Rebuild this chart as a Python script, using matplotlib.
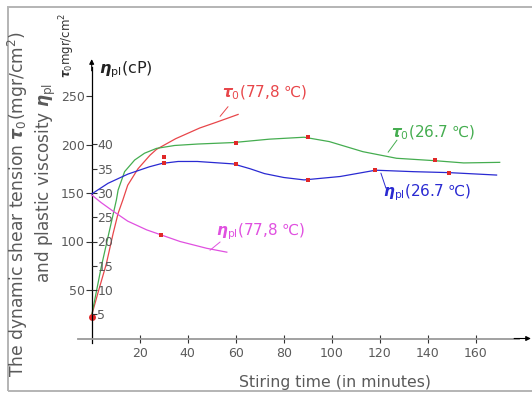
import matplotlib
matplotlib.use("Agg")
import matplotlib.pyplot as plt
from matplotlib.patches import Rectangle

plt.rcParams['font.family'] = ['DejaVu Sans']
plt.rcParams['mathtext.fontset'] = 'dejavusans'

# ---- data -------------------------------------------------------------
# dynamic shear tension tau0 (mgr/cm^2) vs stirring time (min)
tau_778_t = [0, 2.6, 6.1, 8.9, 11, 13, 15, 19.3, 24.3, 27, 35, 45, 52, 61]
tau_778_v = [24, 47, 77, 108, 129, 143, 158, 175, 189, 195, 206, 217, 223, 231]

tau_267_t = [0, 4, 7.1, 9.3, 10.3, 11, 13.7, 17.9, 22, 27, 34.6, 44.3, 59, 74,
             88.5, 99, 113, 127, 143, 155, 170]
tau_267_v = [24, 74, 108, 132, 143, 153, 172, 184, 191, 196, 199, 200.5, 202,
             205.5, 207.5, 203, 192.6, 185.8, 183.3, 181, 181.6]

# plastic viscosity eta_pl (cP) vs stirring time (min)
eta_267_t = [0, 6.8, 15.1, 24, 29.3, 36, 44, 59, 66, 72, 80, 88.5, 103.5,
             118.3, 134, 149, 168.7]
eta_267_v = [29.8, 32.0, 33.9, 35.4, 36.1, 36.5, 36.5, 36.0, 35.0, 34.0, 33.2,
             32.7, 33.4, 34.7, 34.4, 34.2, 33.7]

eta_778_t = [0, 4, 8.5, 15, 22.9, 28.7, 36.8, 47.9, 56.3]
eta_778_v = [29.6, 28.0, 26.4, 24.2, 22.4, 21.4, 20.0, 18.6, 17.8]

# measured points
tau_778_pts_t = [0]
tau_778_pts_v = [22]
tau_267_pts_t = [30, 60, 90, 143]
tau_267_pts_v = [187, 202, 208, 184]
eta_267_pts_t = [30, 60, 90, 118, 149]
eta_267_pts_v = [36.1, 35.9, 32.7, 34.7, 34.2]
eta_778_pts_t = [29]
eta_778_pts_v = [21.4]

x_ticks = [20, 40, 60, 80, 100, 120, 140, 160]
tau_ticks = [50, 100, 150, 200, 250]
eta_ticks = [5, 10, 15, 20, 25, 30, 35, 40]

# ---- layout -----------------------------------------------------------
W, H = 532, 394
ox, oy = 91.7, 338.5          # origin in pixels
sx, sy = 2.4, 0.97            # pixels per minute / per tau unit

RED = '#e8464a'
GREEN = '#45ad50'
BLUE = '#2a2ad2'
MAGENTA = '#e050e0'
DOT = '#e02828'
GREY = '#5a5a5a'


def P(px, py):
    return px / W, 1 - py / H


fig = plt.figure(figsize=(W / 100, H / 100), dpi=100)
fig.patch.set_facecolor('white')
ax = fig.add_axes([0, 0, 1, 1])
ax.set_facecolor('none')
ax.set_xlim(-ox / sx, (W - ox) / sx)
ylo, yhi = -(H - oy) / sy, oy / sy
ax.set_ylim(ylo, yhi)

ax2 = ax.twinx()
ax2.set_ylim(ylo / 5, yhi / 5)

# axes through the origin
for s in ['top', 'right']:
    ax.spines[s].set_visible(False)
ax.spines['left'].set_position(('data', 0))
ax.spines['left'].set_bounds(-4.6, 280)
ax.spines['left'].set_linewidth(0.9)
ax.spines['bottom'].set_position(('data', 0))
ax.spines['bottom'].set_bounds(-5.7, 178)
ax.spines['bottom'].set_color('#9a9a9a')
ax.spines['bottom'].set_linewidth(1.3)
for s in ['top', 'left', 'bottom']:
    ax2.spines[s].set_visible(False)
ax2.spines['right'].set_position(('data', 0))
ax2.spines['right'].set_visible(False)

ax.set_xticks(x_ticks)
ax.set_yticks(tau_ticks)
ax2.set_yticks(eta_ticks)
ax.tick_params(axis='x', direction='inout', length=6, width=0.8, pad=3,
               labelsize=9, labelcolor=GREY, color='#333333')
ax.tick_params(axis='y', direction='out', length=4, width=0.8, pad=1,
               labelsize=9, labelcolor=GREY, color='#333333')
ax2.tick_params(axis='y', direction='out', length=3.5, width=0.8, pad=0.5,
                labelsize=9, labelcolor=GREY, color='#333333')

# arrow heads on the axes
ax.annotate('', xy=(0, 288), xytext=(0, 276),
            arrowprops=dict(arrowstyle='-|>', color='black', lw=0.8,
                            mutation_scale=7, shrinkA=0, shrinkB=0))
ax.annotate('', xy=(183, 0), xytext=(176, 0),
            arrowprops=dict(arrowstyle='-|>', color='black', lw=0.8,
                            mutation_scale=7, shrinkA=0, shrinkB=0))

# curves
ax.plot(tau_778_t, tau_778_v, color=RED, lw=0.9)
ax.plot(tau_267_t, tau_267_v, color=GREEN, lw=0.9)
ax2.plot(eta_267_t, eta_267_v, color=BLUE, lw=0.9)
ax2.plot(eta_778_t, eta_778_v, color=MAGENTA, lw=0.9)

# measured points
ax.plot(tau_778_pts_t, tau_778_pts_v, 'o', ms=5, color=DOT, mew=0, clip_on=False)
ax.plot(tau_267_pts_t, tau_267_pts_v, 's', ms=2.6, color=DOT, mew=0)
ax2.plot(eta_267_pts_t, eta_267_pts_v, 's', ms=2.6, color=DOT, mew=0)
ax2.plot(eta_778_pts_t, eta_778_pts_v, 's', ms=2.6, color=DOT, mew=0)

# pointer lines for the curve labels
ax.annotate('', xy=(53.5, 229), xytext=(56.8, 239),
            arrowprops=dict(arrowstyle='-', color=RED, lw=0.7, shrinkA=0, shrinkB=0))
ax.annotate('', xy=(123.5, 192), xytext=(127.2, 204.5),
            arrowprops=dict(arrowstyle='-', color=GREEN, lw=0.7, shrinkA=0, shrinkB=0))
ax2.annotate('', xy=(120.5, 34.1), xytext=(122.6, 31.0),
             arrowprops=dict(arrowstyle='-', color=BLUE, lw=0.7, shrinkA=0, shrinkB=0))
ax2.annotate('', xy=(49.3, 18.2), xytext=(53.5, 19.9),
             arrowprops=dict(arrowstyle='-', color=MAGENTA, lw=0.7, shrinkA=0, shrinkB=0))

# curve labels
TAU = r'$\boldsymbol{\tau}_{0}$'
ETA = r'$\boldsymbol{\eta}_{\mathrm{pl}}$'
fig.text(*P(222, 93), TAU + '(77,8 \u2103)', color=RED, fontsize=11, va='center', ha='left')
fig.text(*P(391, 133), TAU + '(26.7 \u2103)', color=GREEN, fontsize=11, va='center', ha='left')
fig.text(*P(383, 193), ETA + '(26.7 \u2103)', color=BLUE, fontsize=11, va='center', ha='left')
fig.text(*P(216, 232), ETA + '(77,8 \u2103)', color=MAGENTA, fontsize=11, va='center', ha='left')

# axis titles
fig.text(*P(99, 70), ETA + '(cP)', color='#222222', fontsize=11.5, va='center', ha='left')
fig.text(*P(67, 45), TAU + 'mgr/cm$^2$', color='#333333', fontsize=8.5,
         rotation=90, va='center', ha='center')
fig.text(*P(18, 204), 'The dynamic shear tension ' + TAU + '(mgr/cm$^2$)',
         color=GREY, fontsize=12.3, rotation=90, va='center', ha='center')
fig.text(*P(46, 183), 'and plastic viscosity ' + ETA,
         color=GREY, fontsize=12.2, rotation=90, va='center', ha='center')
fig.text(*P(335, 382), 'Stiring time (in minutes)', color=GREY, fontsize=11.3,
         va='center', ha='center')

# picture frame
fig.patches.append(Rectangle(P(8, 391), (W + 20) / W, (391 - 7) / H,
                             transform=fig.transFigure, fill=False,
                             edgecolor='#b4b4b4', lw=1.4))

fig.savefig('out.png', dpi=100)
